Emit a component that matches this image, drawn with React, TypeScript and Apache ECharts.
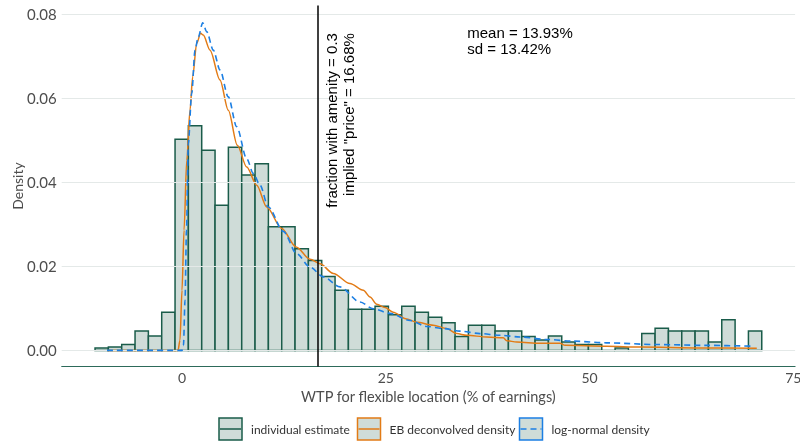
import React, { useEffect, useRef } from "react";
import * as echarts from "echarts";

// ---- data ----
const binStart = -10.67;
const binWidth = 1.636;
const histDensity = [
  0.0006, 0.0008, 0.0014, 0.0046, 0.0034, 0.0091, 0.0502, 0.0534, 0.0476, 0.0345,
  0.0483, 0.0417, 0.0444, 0.0294, 0.0294, 0.0242, 0.0214, 0.0176, 0.0143, 0.0098,
  0.0098, 0.0105, 0.0085, 0.0105, 0.0091, 0.0079, 0.0066, 0.0033, 0.006, 0.006,
  0.0046, 0.0046, 0.0033, 0.0025, 0.0034, 0.002, 0.0014, 0.0014, 0, 0.0006,
  0, 0.004, 0.0053, 0.0046, 0.0046, 0.0046, 0.002, 0.0073, 0, 0.0046,
];

const ebDensity: [number, number][] = [
  [-9.2, 0], [-0.49, 0], [-0.25, 0.0024], [0, 0.0143], [0.25, 0.0286], [0.58, 0.0452],
  [0.98, 0.0571], [1.31, 0.0651], [1.8, 0.073], [2.29, 0.0754], [2.61, 0.075],
  [3.44, 0.0714], [4.66, 0.0643], [5.68, 0.0571], [6.79, 0.0488], [7.94, 0.0436],
  [9.17, 0.0393], [10.39, 0.0341], [12.23, 0.029], [13.99, 0.0246], [15.71, 0.0217],
  [16.93, 0.0206], [18.56, 0.0183], [20.61, 0.0159], [22.25, 0.0143], [23.07, 0.0127],
  [23.89, 0.011], [24.91, 0.0102], [25.89, 0.0091], [27.57, 0.0075], [28.8, 0.0067],
  [30.83, 0.006], [32.48, 0.0052], [33.71, 0.004], [34.93, 0.0036], [37.39, 0.0032],
  [39.42, 0.003], [39.84, 0.0023], [41.07, 0.002], [43.93, 0.0017], [46.38, 0.0017],
  [47.0, 0.0012], [52.11, 0.001], [56.2, 0.0008], [63.56, 0.0006], [70.52, 0.0005],
];

const logNormalDensity: [number, number][] = [
  [-9.2, 0], [0, 0], [0.18, 0.0012], [0.37, 0.0119], [0.55, 0.0286], [0.77, 0.0492],
  [1.19, 0.0611], [1.6, 0.0714], [2.0, 0.0746], [2.54, 0.0779], [3.03, 0.0758],
  [3.84, 0.0714], [4.66, 0.0667], [5.68, 0.0603], [6.71, 0.0532], [7.94, 0.0456],
  [8.75, 0.0421], [9.57, 0.0393], [10.59, 0.0341], [12.43, 0.0283], [14.07, 0.023],
  [15.71, 0.0198], [17.34, 0.0175], [19.39, 0.0151], [21.84, 0.0115], [23.47, 0.0099],
  [25.52, 0.0088], [27.98, 0.0071], [30.02, 0.0057], [32.06, 0.0052], [34.11, 0.0046],
  [36.56, 0.004], [39.02, 0.0036], [41.47, 0.0032], [44.75, 0.0026], [48.01, 0.0022],
  [52.11, 0.0018], [58.25, 0.0014], [64.38, 0.0012], [70.1, 0.001],
];

const xTicks = [0, 25, 50, 75];
const yTicks = [0, 0.02, 0.04, 0.06, 0.08];
const priceValue = 16.68;
const priceLabel = ["fraction with amenity = 0.3", 'implied "price" = 16.68%'];
const statsLabel = ["mean = 13.93%", "sd = 13.42%"];
const statsPos: [number, number] = [35.0, 0.0736];
const legendLabels = ["individual estimate", "EB deconvolved density", "log-normal density"];

const C_FILL = "#cfdcd8";
const C_BORDER = "#1a5c4a";
const C_ORANGE = "#e27b16";
const C_BLUE = "#1c7fe3";
const C_GRID = "#e4e9e8";
const C_TEXT = "#4d4d4d";
const FONT = "Lato";

export default function App() {
  const ref = useRef<HTMLDivElement>(null);
  useEffect(() => {
    if (!ref.current) return;
    const chart = echarts.init(ref.current, undefined, { renderer: "svg" });
    const histData = histDensity.map((d, i) => [
      binStart + i * binWidth,
      binStart + (i + 1) * binWidth,
      d,
    ]);
    chart.setOption({
      animation: false,
      grid: {
        left: 61.7,
        right: 4.9,
        top: 5.6,
        bottom: 75.6,
        containLabel: false,
        outerBoundsMode: "none",
      },
      xAxis: {
        type: "value",
        min: -14.76,
        max: 75.22,
        splitLine: { show: false },
        axisTick: { show: false },
        axisLine: { show: true, onZero: false, lineStyle: { color: "#2d6a5a", width: 1 } },
        axisLabel: {
          customValues: xTicks,
          color: C_TEXT,
          fontFamily: FONT,
          fontSize: 14,
          margin: 4,
        },
        name: "WTP for flexible location (% of earnings)",
        nameLocation: "middle",
        nameGap: 20,
        nameTextStyle: { color: C_TEXT, fontFamily: FONT, fontSize: 14.5 },
      },
      yAxis: {
        type: "value",
        min: -0.0038,
        max: 0.082,
        splitLine: { show: false },
        axisTick: { show: false },
        axisLine: { show: false },
        axisLabel: {
          customValues: yTicks,
          formatter: (v: number) => v.toFixed(2),
          color: C_TEXT,
          fontFamily: FONT,
          fontSize: 15,
          margin: 5,
        },
        name: "Density",
        nameLocation: "middle",
        nameGap: 37,
        nameMoveOverlap: false,
        nameTextStyle: { color: C_TEXT, fontFamily: FONT, fontSize: 14 },
      },
      series: [
        {
          type: "line",
          data: [],
          z: 0,
          markLine: {
            silent: true,
            symbol: "none",
            label: { show: false },
            lineStyle: { color: C_GRID, width: 1, type: "solid" },
            data: yTicks.map((v) => ({ yAxis: v })),
          },
        },
        {
          type: "custom",
          z: 2,
          data: histData,
          encode: { x: [0, 1], y: 2 },
          clip: true,
          renderItem: (_p: any, api: any) => {
            const a = api.coord([api.value(0), api.value(2)]);
            const b = api.coord([api.value(1), 0]);
            return {
              type: "rect",
              shape: { x: a[0], y: a[1], width: b[0] - a[0], height: b[1] - a[1] },
              style: { fill: C_FILL, stroke: C_BORDER, lineWidth: 1.5 },
            };
          },
        },
        {
          type: "line",
          z: 3,
          data: [],
          markLine: {
            silent: true,
            symbol: "none",
            label: { show: false },
            lineStyle: { color: "#000", width: 1.5, type: "solid" },
            data: [{ xAxis: priceValue }],
          },
        },
        {
          type: "line",
          z: 4,
          data: ebDensity,
          showSymbol: false,
          smooth: 0.3,
          smoothMonotone: "x",
          lineStyle: { color: C_ORANGE, width: 1.5 },
        },
        {
          type: "line",
          z: 5,
          data: logNormalDensity,
          showSymbol: false,
          smooth: 0.3,
          smoothMonotone: "x",
          lineStyle: { color: C_BLUE, width: 1.6, type: [6, 4] },
        },
      ],
    });

    const pPrice = chart.convertToPixel({ xAxisIndex: 0, yAxisIndex: 0 }, [priceValue, 0.0757]) as number[];
    const pStats = chart.convertToPixel({ xAxisIndex: 0, yAxisIndex: 0 }, statsPos) as number[];

    const legendX = [219, 357.5, 519.5];
    const legendColors = [C_BORDER, C_ORANGE, C_BLUE];
    const legendEls: any[] = [];
    legendLabels.forEach((lab, i) => {
      const x = legendX[i];
      legendEls.push({
        type: "rect",
        shape: { x: x, y: 418, width: 23, height: 22 },
        style: { fill: C_FILL, stroke: legendColors[i], lineWidth: 1.5 },
      });
      legendEls.push({
        type: "line",
        shape: { x1: x + 1, y1: 429, x2: x + 22, y2: 429 },
        style: {
          stroke: legendColors[i],
          lineWidth: i === 2 ? 1.6 : 1.5,
          lineDash: i === 2 ? [6, 4] : null,
        },
      });
      legendEls.push({
        type: "text",
        x: x + 32,
        y: 429,
        style: {
          text: lab,
          fill: "#333",
          fontFamily: FONT,
          fontSize: 12,
          align: "left",
          verticalAlign: "middle",
        },
      });
    });

    chart.setOption({
      graphic: [
        {
          type: "text",
          x: pPrice[0] + 22,
          y: pPrice[1] + 1,
          rotation: Math.PI / 2,
          z: 10,
          style: {
            text: priceLabel.join("\n"),
            fill: "#000",
            fontFamily: "Liberation Sans",
            fontSize: 15,
            lineHeight: 17,
            align: "right",
            verticalAlign: "middle",
          },
        },
        {
          type: "text",
          x: pStats[0],
          y: pStats[1],
          z: 10,
          style: {
            text: statsLabel.join("\n"),
            fill: "#000",
            fontFamily: "Liberation Sans",
            fontSize: 15,
            lineHeight: 16,
            align: "left",
            verticalAlign: "middle",
          },
        },
        ...legendEls,
      ],
    });

    return () => chart.dispose();
  }, []);
  return <div ref={ref} style={{ width: 800, height: 442, position: "fixed", left: 0, top: 0 }} />;
}
